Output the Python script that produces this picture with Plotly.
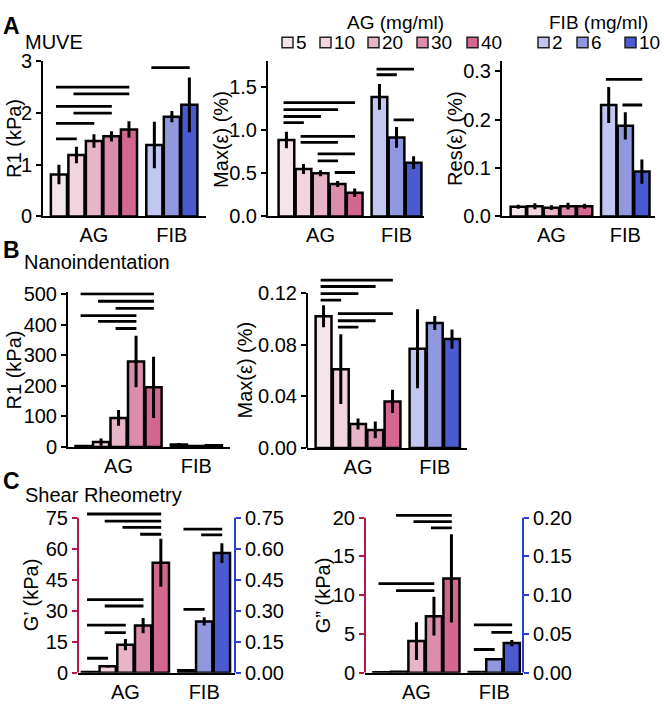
import plotly.graph_objects as go

W, H = 664, 707
FONT = "Liberation Sans, Arial, sans-serif"

# ---------------- data ----------------
ag_conc = ["5", "10", "20", "30", "40"]
fib_conc = ["2", "6", "10"]
ag_colors = ["#F3E5EA", "#F2D3DE", "#E8B4C8", "#DC8DAB", "#D4678F"]
fib_colors = ["#C2C7F2", "#9098E0", "#4A5AD0"]
group_labels = ["AG", "FIB"]

# A: MUVE
muve_r1_ag = [0.81, 1.19, 1.46, 1.55, 1.68]
muve_r1_ag_err = [0.19, 0.16, 0.13, 0.10, 0.16]
muve_r1_fib = [1.38, 1.93, 2.16]
muve_r1_fib_err = [0.45, 0.11, 0.53]
muve_r1_sig_ag = [[0, 4, 2.50], [1, 4, 2.37], [0, 3, 2.13], [1, 3, 2.00], [0, 2, 1.80], [0, 1, 1.50]]
muve_r1_sig_fib = [[0, 2, 2.88]]

muve_max_ag = [0.887, 0.55, 0.50, 0.376, 0.274]
muve_max_ag_err = [0.095, 0.057, 0.035, 0.035, 0.05]
muve_max_fib = [1.387, 0.917, 0.624]
muve_max_fib_err = [0.15, 0.12, 0.075]
muve_max_sig_ag = [[0, 4, 1.32], [0, 3, 1.24], [0, 2, 1.16], [0, 1, 1.09], [1, 4, 0.93],
                   [1, 3, 0.86], [2, 4, 0.725], [2, 3, 0.645], [3, 4, 0.51]]
muve_max_sig_fib = [[0, 2, 1.71], [0, 1, 1.645], [1, 2, 1.12]]

muve_res_ag = [0.020, 0.021, 0.018, 0.021, 0.021]
muve_res_ag_err = [0.004, 0.006, 0.005, 0.007, 0.005]
muve_res_fib = [0.23, 0.187, 0.0925]
muve_res_fib_err = [0.037, 0.028, 0.025]
muve_res_sig_ag = []
muve_res_sig_fib = [[0, 2, 0.283], [1, 2, 0.23]]

# B: Nanoindentation
nano_r1_ag = [3, 16, 95, 279, 195]
nano_r1_ag_err = [1.5, 12, 26, 84, 100]
nano_r1_fib = [8, 3, 6]
nano_r1_fib_err = [5, 1.5, 3]
nano_r1_sig_ag = [[0, 4, 500], [1, 4, 476], [2, 4, 453], [0, 3, 429], [1, 3, 410], [2, 3, 387]]
nano_r1_sig_fib = []

nano_max_ag = [0.102, 0.061, 0.0185, 0.014, 0.036]
nano_max_ag_err = [0.0085, 0.027, 0.0043, 0.0065, 0.009]
nano_max_fib = [0.0768, 0.0968, 0.0843]
nano_max_fib_err = [0.0305, 0.0054, 0.0075]
nano_max_sig_ag = [[0, 4, 0.130], [0, 3, 0.125], [0, 2, 0.1195], [0, 1, 0.1145],
                   [1, 4, 0.104], [1, 3, 0.0985], [1, 2, 0.0935]]
nano_max_sig_fib = []

# C: Shear rheometry (AG on left axis, FIB on right axis)
shear_gp_ag = [0.4, 3.1, 13.6, 22.8, 53.2]
shear_gp_ag_err = [0.2, 0.6, 2.7, 3.7, 11.6]
shear_gp_fib = [0.012, 0.248, 0.579]
shear_gp_fib_err = [0.003, 0.02, 0.048]
shear_gp_sig_ag = [[0, 4, 76.8], [1, 4, 73.4], [2, 4, 70.3], [3, 4, 67.0], [0, 3, 35.4],
                   [1, 3, 32.3], [0, 2, 23.0], [1, 2, 19.4], [0, 1, 7.0]]
shear_gp_sig_fib = [[0, 2, 0.695], [1, 2, 0.667], [0, 1, 0.307]]

shear_gpp_ag = [0.05, 0.12, 4.08, 7.3, 12.17]
shear_gpp_ag_err = [0.02, 0.03, 2.44, 2.5, 5.7]
shear_gpp_fib = [0.0008, 0.0175, 0.0383]
shear_gpp_fib_err = [0.0003, 0.0012, 0.004]
shear_gpp_sig_ag = [[1, 4, 20.3], [2, 4, 19.5], [3, 4, 18.7], [0, 3, 11.5], [1, 3, 10.6]]
shear_gpp_sig_fib = [[0, 2, 0.0617], [1, 2, 0.052], [0, 1, 0.030]]

# ---------------- layout helpers ----------------
FIB_OFFSET = 1.45
ag_pos = list(range(len(ag_conc)))
fib_pos = [ag_pos[-1] + FIB_OFFSET + i for i in range(len(fib_conc))]
group_tick_pos = [ag_pos[len(ag_pos) // 2], fib_pos[len(fib_pos) // 2]]

CRIMSON = "#B3174E"
BLUE = "#2B3DD6"


def xd(l, r):
    return [l / W, r / W]


def yd(t, b):
    return [1 - b / H, 1 - t / H]


def px(x):
    return x / W


def py(y):
    return 1 - y / H


fig = go.Figure()
layout = dict(
    width=W, height=H, margin=dict(l=0, r=0, t=0, b=0),
    paper_bgcolor="white", plot_bgcolor="white", showlegend=False,
    font=dict(family=FONT, size=20, color="black"),
    bargap=0,
)
shapes = []
annotations = []


def sig_trace(sig, pos, xa, ya):
    xs, ys = [], []
    for i, j, v in sig:
        xs += [pos[i] - 0.17, pos[j] + 0.02, None]
        ys += [v, v, None]
    return go.Scatter(x=xs, y=ys, mode="lines", line=dict(color="black", width=2.8),
                      xaxis=xa, yaxis=ya, hoverinfo="skip")


def bar_trace(pos, vals, errs, colors, xa, ya):
    return go.Bar(x=pos, y=vals, width=0.92, xaxis=xa, yaxis=ya,
                  marker=dict(color=colors, line=dict(color="black", width=2.5)),
                  error_y=dict(type="data", array=errs, thickness=3, width=0, color="black"))


def yaxis_common(rng, tickvals, fmt, dom, anchor, showline=True, color="black", side="left", overlaying=None):
    d = dict(range=rng, domain=dom, anchor=anchor, tickvals=tickvals, tickformat=fmt,
             ticks="outside", ticklen=5, tickwidth=2, tickcolor=color,
             showline=showline, linewidth=2, linecolor=color, showgrid=False, zeroline=False,
             tickfont=dict(size=20, color="black", family=FONT), side=side, fixedrange=True)
    if overlaying:
        d["overlaying"] = overlaying
    return d


def xaxis_common(rng, dom, anchor):
    return dict(range=rng, domain=dom, anchor=anchor, tickvals=group_tick_pos, ticktext=group_labels,
                ticks="", showline=True, linewidth=2, linecolor="black", showgrid=False, zeroline=False,
                tickfont=dict(size=20, color="black", family=FONT), fixedrange=True)


def add_panel(n, xdom, xr, ydom, yr, tickvals, fmt, ag, ag_err, fib, fib_err, sig_ag, sig_fib,
              top=None, right=None):
    xa = "x" if n == 1 else f"x{n}"
    ya_num = n if n <= 5 else (6 if n == 6 else 8)
    ya = "y" if ya_num == 1 else f"y{ya_num}"
    layout["xaxis" if n == 1 else f"xaxis{n}"] = xaxis_common(xr, xd(*xdom), ya)
    lcol = CRIMSON if right else "black"
    layout["yaxis" if ya_num == 1 else f"yaxis{ya_num}"] = yaxis_common(
        yr, tickvals, fmt, yd(*ydom), xa, showline=(top is None), color=lcol)
    fig.add_trace(bar_trace(ag_pos, ag, ag_err, ag_colors, xa, ya))
    if sig_ag:
        fig.add_trace(sig_trace(sig_ag, ag_pos, xa, ya))
    if right:
        yr2 = f"y{ya_num + 1}"
        layout[f"yaxis{ya_num + 1}"] = yaxis_common(
            right["range"], right["tickvals"], right["fmt"], yd(*ydom), xa,
            showline=False, color=BLUE, side="right", overlaying=ya)
        fig.add_trace(bar_trace(fib_pos, fib, fib_err, fib_colors, xa, yr2))
        if sig_fib:
            fig.add_trace(sig_trace(sig_fib, fib_pos, xa, yr2))
        shapes.append(dict(type="line", xref=f"{xa} domain", yref=yr2, x0=1, x1=1,
                           y0=0, y1=right["top"], line=dict(color=BLUE, width=2)))
    else:
        fig.add_trace(bar_trace(fib_pos, fib, fib_err, fib_colors, xa, ya))
        if sig_fib:
            fig.add_trace(sig_trace(sig_fib, fib_pos, xa, ya))
    if top is not None:
        shapes.append(dict(type="line", xref=f"{xa} domain", yref=ya, x0=0, x1=0,
                           y0=0, y1=top, line=dict(color=lcol, width=2)))


# Row A
add_panel(1, (43, 206), (-0.91, 8.4), (52, 212), (0, 3), [0, 1, 2, 3], "d",
          muve_r1_ag, muve_r1_ag_err, muve_r1_fib, muve_r1_fib_err, muve_r1_sig_ag, muve_r1_sig_fib)
add_panel(2, (268, 424), (-1.08, 8.06), (52, 212), (0, 1.8), [0, 0.5, 1.0, 1.5], ".1f",
          muve_max_ag, muve_max_ag_err, muve_max_fib, muve_max_fib_err, muve_max_sig_ag, muve_max_sig_fib)
add_panel(3, (502, 655), (-0.98, 8.24), (52, 212), (0, 0.32), [0, 0.1, 0.2, 0.3], ".1f",
          muve_res_ag, muve_res_ag_err, muve_res_fib, muve_res_fib_err, muve_res_sig_ag, muve_res_sig_fib)
# Row B
add_panel(4, (68, 230), (-0.89, 8.37), (290.4, 450), (0, 505), [0, 100, 200, 300, 400, 500], "d",
          nano_r1_ag, nano_r1_ag_err, nano_r1_fib, nano_r1_fib_err, nano_r1_sig_ag, nano_r1_sig_fib)
add_panel(5, (307, 467), (-0.96, 8.32), (273.7, 451), (0, 0.133), [0, 0.04, 0.08, 0.12], ".2f",
          nano_max_ag, nano_max_ag_err, nano_max_fib, nano_max_fib_err, nano_max_sig_ag, nano_max_sig_fib,
          top=0.12)
# Row C
add_panel(6, (78, 235), (-0.68, 8.19), (516.6, 683), (0, 78), [0, 15, 30, 45, 60, 75], "d",
          shear_gp_ag, shear_gp_ag_err, shear_gp_fib, shear_gp_fib_err, shear_gp_sig_ag, shear_gp_sig_fib,
          top=75, right=dict(range=[0, 0.78], tickvals=[0, 0.15, 0.3, 0.45, 0.6, 0.75], fmt=".2f", top=0.75))
add_panel(7, (365, 523), (-0.94, 8.09), (516.6, 683), (0, 20.8), [0, 5, 10, 15, 20], "d",
          shear_gpp_ag, shear_gpp_ag_err, shear_gpp_fib, shear_gpp_fib_err, shear_gpp_sig_ag, shear_gpp_sig_fib,
          top=20, right=dict(range=[0, 0.208], tickvals=[0, 0.05, 0.1, 0.15, 0.2], fmt=".2f", top=0.2))


def text(t, x, y, size=20, xanchor="left", angle=0, bold=False):
    annotations.append(dict(text=f"<b>{t}</b>" if bold else t, x=px(x), y=py(y), xref="paper", yref="paper",
                            xanchor=xanchor, yanchor="middle", showarrow=False, textangle=angle,
                            font=dict(size=size, family=FONT, color="black")))


# panel letters and titles
text("A", 1, 15, size=23, bold=True)
text("MUVE", 23, 32)
text("B", 1, 247, size=23, bold=True)
text("Nanoindentation", 22, 259)
text("C", 1, 485, size=23, bold=True)
text("Shear Rheometry", 23, 500)

# axis titles
text("R1 (kPa)", 14, 132, xanchor="center", angle=-90)
text("Max(ε) (%)", 221, 132, xanchor="center", angle=-90)
text("Res(ε) (%)", 455, 132, xanchor="center", angle=-90)
text("R1 (kPa)", 14, 371, xanchor="center", angle=-90)
text("Max(ε) (%)", 245, 371, xanchor="center", angle=-90)
text("G’ (kPa)", 31, 603, xanchor="center", angle=-90)
text("G” (kPa)", 323, 603, xanchor="center", angle=-90)

# custom legends
text("AG (mg/ml)", 395, 12, size=19, xanchor="center")
text("FIB (mg/ml)", 598, 12, size=19, xanchor="center")
ag_leg_x = [282, 320, 368, 417, 467]
fib_leg_x = [538, 577, 625]
for lbl, col, x0 in list(zip(ag_conc, ag_colors, ag_leg_x)) + list(zip(fib_conc, fib_colors, fib_leg_x)):
    shapes.append(dict(type="rect", xref="paper", yref="paper", x0=px(x0), x1=px(x0 + 11),
                       y0=py(38), y1=py(27), fillcolor=col, line=dict(color="#222222", width=1.5)))
    text(lbl, x0 + 12, 33, size=19)

layout["shapes"] = shapes
layout["annotations"] = annotations
fig.update_layout(**layout)
fig.write_html("out.html", config={"displayModeBar": False, "staticPlot": True},
               post_script="document.body.style.margin='0';document.body.style.overflow='hidden';")
